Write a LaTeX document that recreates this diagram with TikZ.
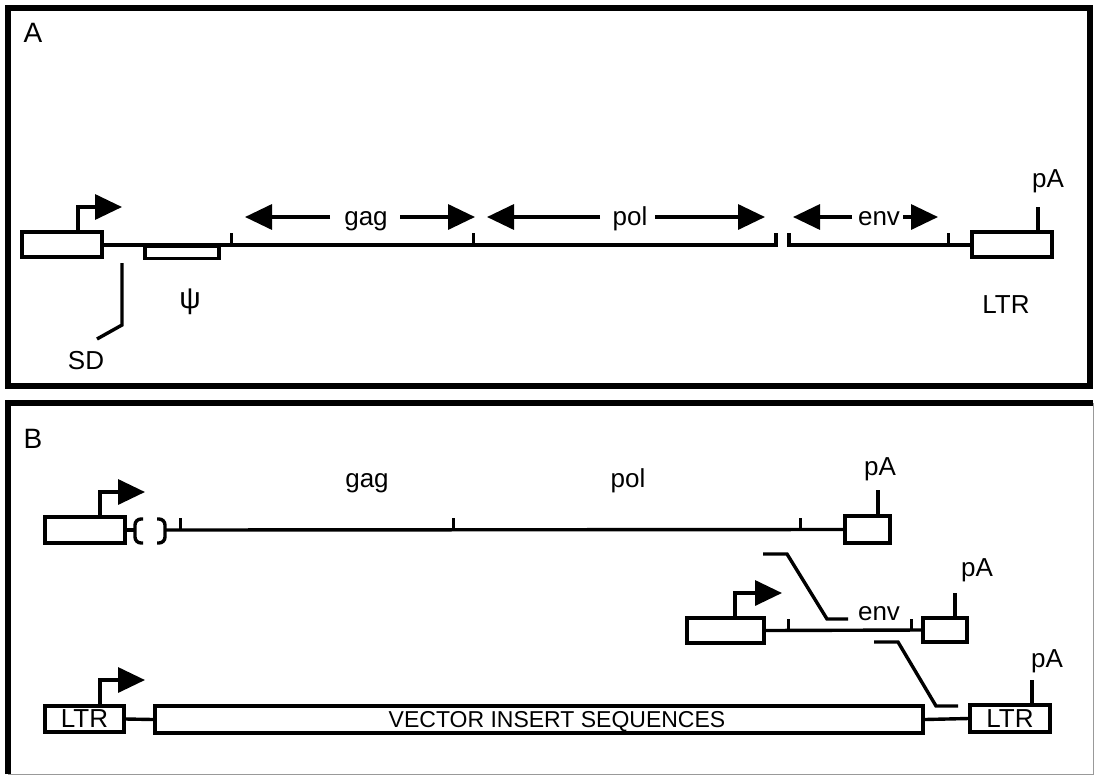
\documentclass[tikz,border=0pt]{standalone}
\usepackage{fontspec}
\setmainfont{Liberation Sans}
\usetikzlibrary{positioning,arrows.meta}

\begin{document}
\begin{tikzpicture}[
  x=0.5pt, y=-0.5pt,
  line width=1.7pt,
  seg/.style={rectangle, draw, inner sep=0pt, fill=white,
              font=\fontsize{13}{15}\selectfont},
  lbl/.style={inner sep=0pt, anchor=base, font=\fontsize{13}{15}\selectfont},
  prom/.style={-{Triangle[length=13.5pt,width=12.5pt]}},
  gene/.style={-{Triangle[length=13.5pt,width=12.5pt]}},
  tick/.style={line width=1.5pt}
]
\useasboundingbox (0,0) rectangle (1095,776);

% --- panel frames ---
\draw[line width=2.6pt] (8,8) rectangle (1090,386);
\draw[line width=0.5pt, black!40] (1093,403) -- (1093,774) -- (8,774);
\draw[line width=2.6pt] (8,774) -- (8,403) -- (1093,403);
\node[lbl, font=\fontsize{14}{16}\selectfont] (labA) at (33,42) {A};
\node[lbl, font=\fontsize{14}{16}\selectfont] (labB) at (33,448) {B};

% --- A: provirus ---
\node[seg, minimum width=40pt, minimum height=12.5pt] (ltrL) at (62,244.5) {};
\node[seg, minimum width=37pt, minimum height=6pt, anchor=north] (psi) at (182,245) {};
\node[seg, minimum width=40pt, minimum height=12.5pt] (ltrR) at (1012,244.5) {};
\coordinate (polend) at (776,245);
\coordinate (envbeg) at (789,245);
\draw (ltrL.east |- polend) -- (polend) -- ++(0,-12);
\draw (envbeg) ++(0,-12) -- (envbeg) -- (ltrR.west |- envbeg);
\foreach \t in {231,473,948}
  \draw[tick] (\t,245) -- (\t,233);

\coordinate (promA) at (78,207);
\draw[prom] (ltrL.north -| promA) -- (promA) -- (122,207);
\coordinate (pAa) at (1038,207);
\draw (ltrR.north -| pAa) -- (pAa);
\node[lbl] (pAtxtA) at (1048,187) {pA};
\node[lbl] (ltrtxtA) at (1006,313) {LTR};
\node[lbl, anchor=center, font=\fontsize{15}{17}\selectfont] (psitxt) at (190,302) {ψ};

% splice donor
\coordinate (sd1) at (122,263);
\coordinate (sd2) at (122,325);
\coordinate (sd3) at (97,339);
\draw (sd1) -- (sd2) -- (sd3);
\node[lbl] (sdtxt) at (86,369) {SD};

% gene extents
\node[lbl] (gagA) at (366,225) {gag};
\node[lbl] (polA) at (630,225) {pol};
\node[lbl] (envA) at (879,225) {env};
\draw[gene] (330,217) -- (245,217);
\draw[gene] (400,217) -- (475,217);
\draw[gene] (600,217) -- (487,217);
\draw[gene] (655,217) -- (765,217);
\draw[gene] (852,217) -- (793,217);
\draw[gene] (903,217) -- (938,217);

% --- B: packaging construct ---
\node[seg, minimum width=40pt, minimum height=13pt] (pk) at (85,530) {};
\node[seg, minimum width=22.5pt, minimum height=13.5pt] (pkr) at (867.5,529.5) {};
\draw[prom] (pk.north -| 100,0) -- (100,492) -- (145,492);
\draw (pk.east) -- (135,530);
\draw[rounded corners=3pt] (143,519) -- (135,519) -- (135,543) -- (143,543);
\draw[rounded corners=3pt] (157,519) -- (165,519) -- (165,543) -- (157,543);
\draw (165,530) -- (pkr.west);
\foreach \t in {180,453,800}
  \draw[tick] (\t,530) -- (\t,518);
\draw (pkr.north -| 878,0) -- (878,490);
\node[lbl] (pAtxt1) at (880,475) {pA};
\node[lbl] (gagB) at (367,487) {gag};
\node[lbl] (polB) at (628,487) {pol};

% --- B: env construct ---
\node[seg, minimum width=38.5pt, minimum height=12.5pt] (ev) at (725.5,630.5) {};
\node[seg, minimum width=22pt, minimum height=12pt] (evr) at (945,630) {};
\draw[prom] (ev.north -| 735,0) -- (735,593) -- (782,593);
\draw (ev.east) -- (evr.west);
\foreach \t in {788,911}
  \draw[tick] (\t,630) -- (\t,619);
\draw (evr.north -| 955,0) -- (955,593);
\node[lbl] (pAtxt2) at (977,576) {pA};
\node[lbl] (envB) at (879,620) {env};
\coordinate (sp1) at (763,554);
\coordinate (sp2) at (787,554);
\coordinate (sp3) at (827,619);
\coordinate (sp4) at (848,619);
\draw (sp1) -- (sp2) -- (sp3) -- (sp4);
\coordinate (sq1) at (874,642);
\coordinate (sq2) at (898,642);
\coordinate (sq3) at (936,706);
\coordinate (sq4) at (958,706);
\draw (sq1) -- (sq2) -- (sq3) -- (sq4);

% --- B: vector ---
\node[seg, minimum width=39.5pt, minimum height=13pt] (vl) at (84.5,719) {LTR};
\node[seg, minimum width=384pt, minimum height=13.5pt] (vins) at (539,719.5) {};
\node[lbl, font=\fontsize{11.5}{13}\selectfont] (vinstxt) at (557,727) {VECTOR INSERT SEQUENCES};
\node[seg, minimum width=40pt, minimum height=13.5pt] (vr) at (1010,718.5) {LTR};
\draw[prom] (vl.north -| 100,0) -- (100,680) -- (145,680);
\draw (vl.east) -- (vins.west);
\draw (vins.east) -- (vr.west);
\draw (vr.north -| 1032,0) -- (1032,680);
\node[lbl] (pAtxt3) at (1047,667) {pA};

\end{tikzpicture}
\end{document}
